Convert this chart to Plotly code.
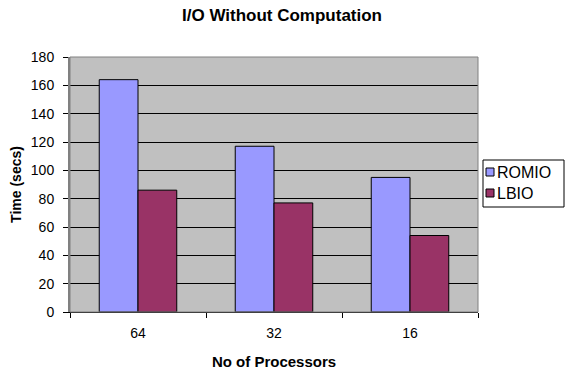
import plotly.graph_objects as go

# Processor counts and I/O times (seconds)
processors = ["64", "32", "16"]
romio_times = [164, 117, 95]
lbio_times = [86, 77, 54]
y_ticks = [0, 20, 40, 60, 80, 100, 120, 140, 160, 180]

series_names = ["ROMIO", "LBIO"]
series_colors = ["#9999FF", "#993366"]

FONT = "Liberation Sans, Arial, sans-serif"
W, H = 565, 372
ML, MR, MT, MB = 70, 87, 57, 60

fig = go.Figure()
for name, color, values in zip(series_names, series_colors, [romio_times, lbio_times]):
    fig.add_trace(go.Bar(
        name=name, x=processors, y=values,
        marker=dict(color=color, line=dict(color="#000000", width=1)),
        showlegend=False,
    ))

fig.update_layout(
    width=W, height=H,
    margin=dict(l=ML, r=MR, t=MT, b=MB, autoexpand=False),
    paper_bgcolor="#FFFFFF",
    plot_bgcolor="#C0C0C0",
    barmode="group",
    bargap=0.43,
    bargroupgap=0,
    font=dict(family=FONT, size=13, color="#000000"),
    title=dict(
        text="<b>I/O Without Computation</b>",
        x=282 / W, xanchor="center", xref="container",
        y=1 - 15 / H, yanchor="middle", yref="container",
        font=dict(family=FONT, size=17, color="#000000"),
    ),
    xaxis=dict(
        title=dict(text="<b>No of Processors</b>", standoff=16,
                   font=dict(family=FONT, size=15)),
        showline=True, linecolor="#000000", linewidth=1,
        ticks="outside", ticklen=5, tickcolor="#000000",
        tickson="boundaries",
        tickfont=dict(family=FONT, size=14),
        ticklabelstandoff=8,
        showgrid=False,
        automargin=False,
    ),
    yaxis=dict(
        title=dict(text="<b>Time (secs)</b>", standoff=6,
                   font=dict(family=FONT, size=14)),
        range=[0, 180],
        tickvals=y_ticks,
        showline=True, linecolor="#808080", linewidth=2,
        ticks="outside", ticklen=5, tickcolor="#000000",
        tickfont=dict(family=FONT, size=14),
        ticklabelstandoff=6,
        showgrid=True, gridcolor="#000000", gridwidth=1,
        zeroline=False,
        automargin=False,
    ),
)

# Gray border around the plot area
fig.add_shape(type="rect", xref="paper", yref="paper",
              x0=0, x1=1, y0=0, y1=1,
              line=dict(color="#808080", width=1), layer="above")


# Pixel position in the page -> paper coordinates
def fx(x):
    return (x - ML) / (W - ML - MR)


def fy(y):
    return (H - MB - y) / (H - MT - MB)


# Legend box at the right of the plot area
fig.add_shape(type="rect", xref="paper", yref="paper",
              x0=fx(483), x1=fx(564), y0=fy(207), y1=fy(160),
              line=dict(color="#000000", width=1), fillcolor="#FFFFFF")

row_centers = [172, 193]
for name, color, yc in zip(series_names, series_colors, row_centers):
    fig.add_shape(type="rect", xref="paper", yref="paper",
                  x0=fx(486), x1=fx(494), y0=fy(yc + 4), y1=fy(yc - 4),
                  line=dict(color="#000000", width=1), fillcolor=color)
    fig.add_annotation(
        text=name, xref="paper", yref="paper",
        x=fx(495), y=fy(yc),
        xanchor="left", yanchor="middle", showarrow=False,
        font=dict(family=FONT, size=16, color="#000000"),
    )

fig.write_html("out.html")
